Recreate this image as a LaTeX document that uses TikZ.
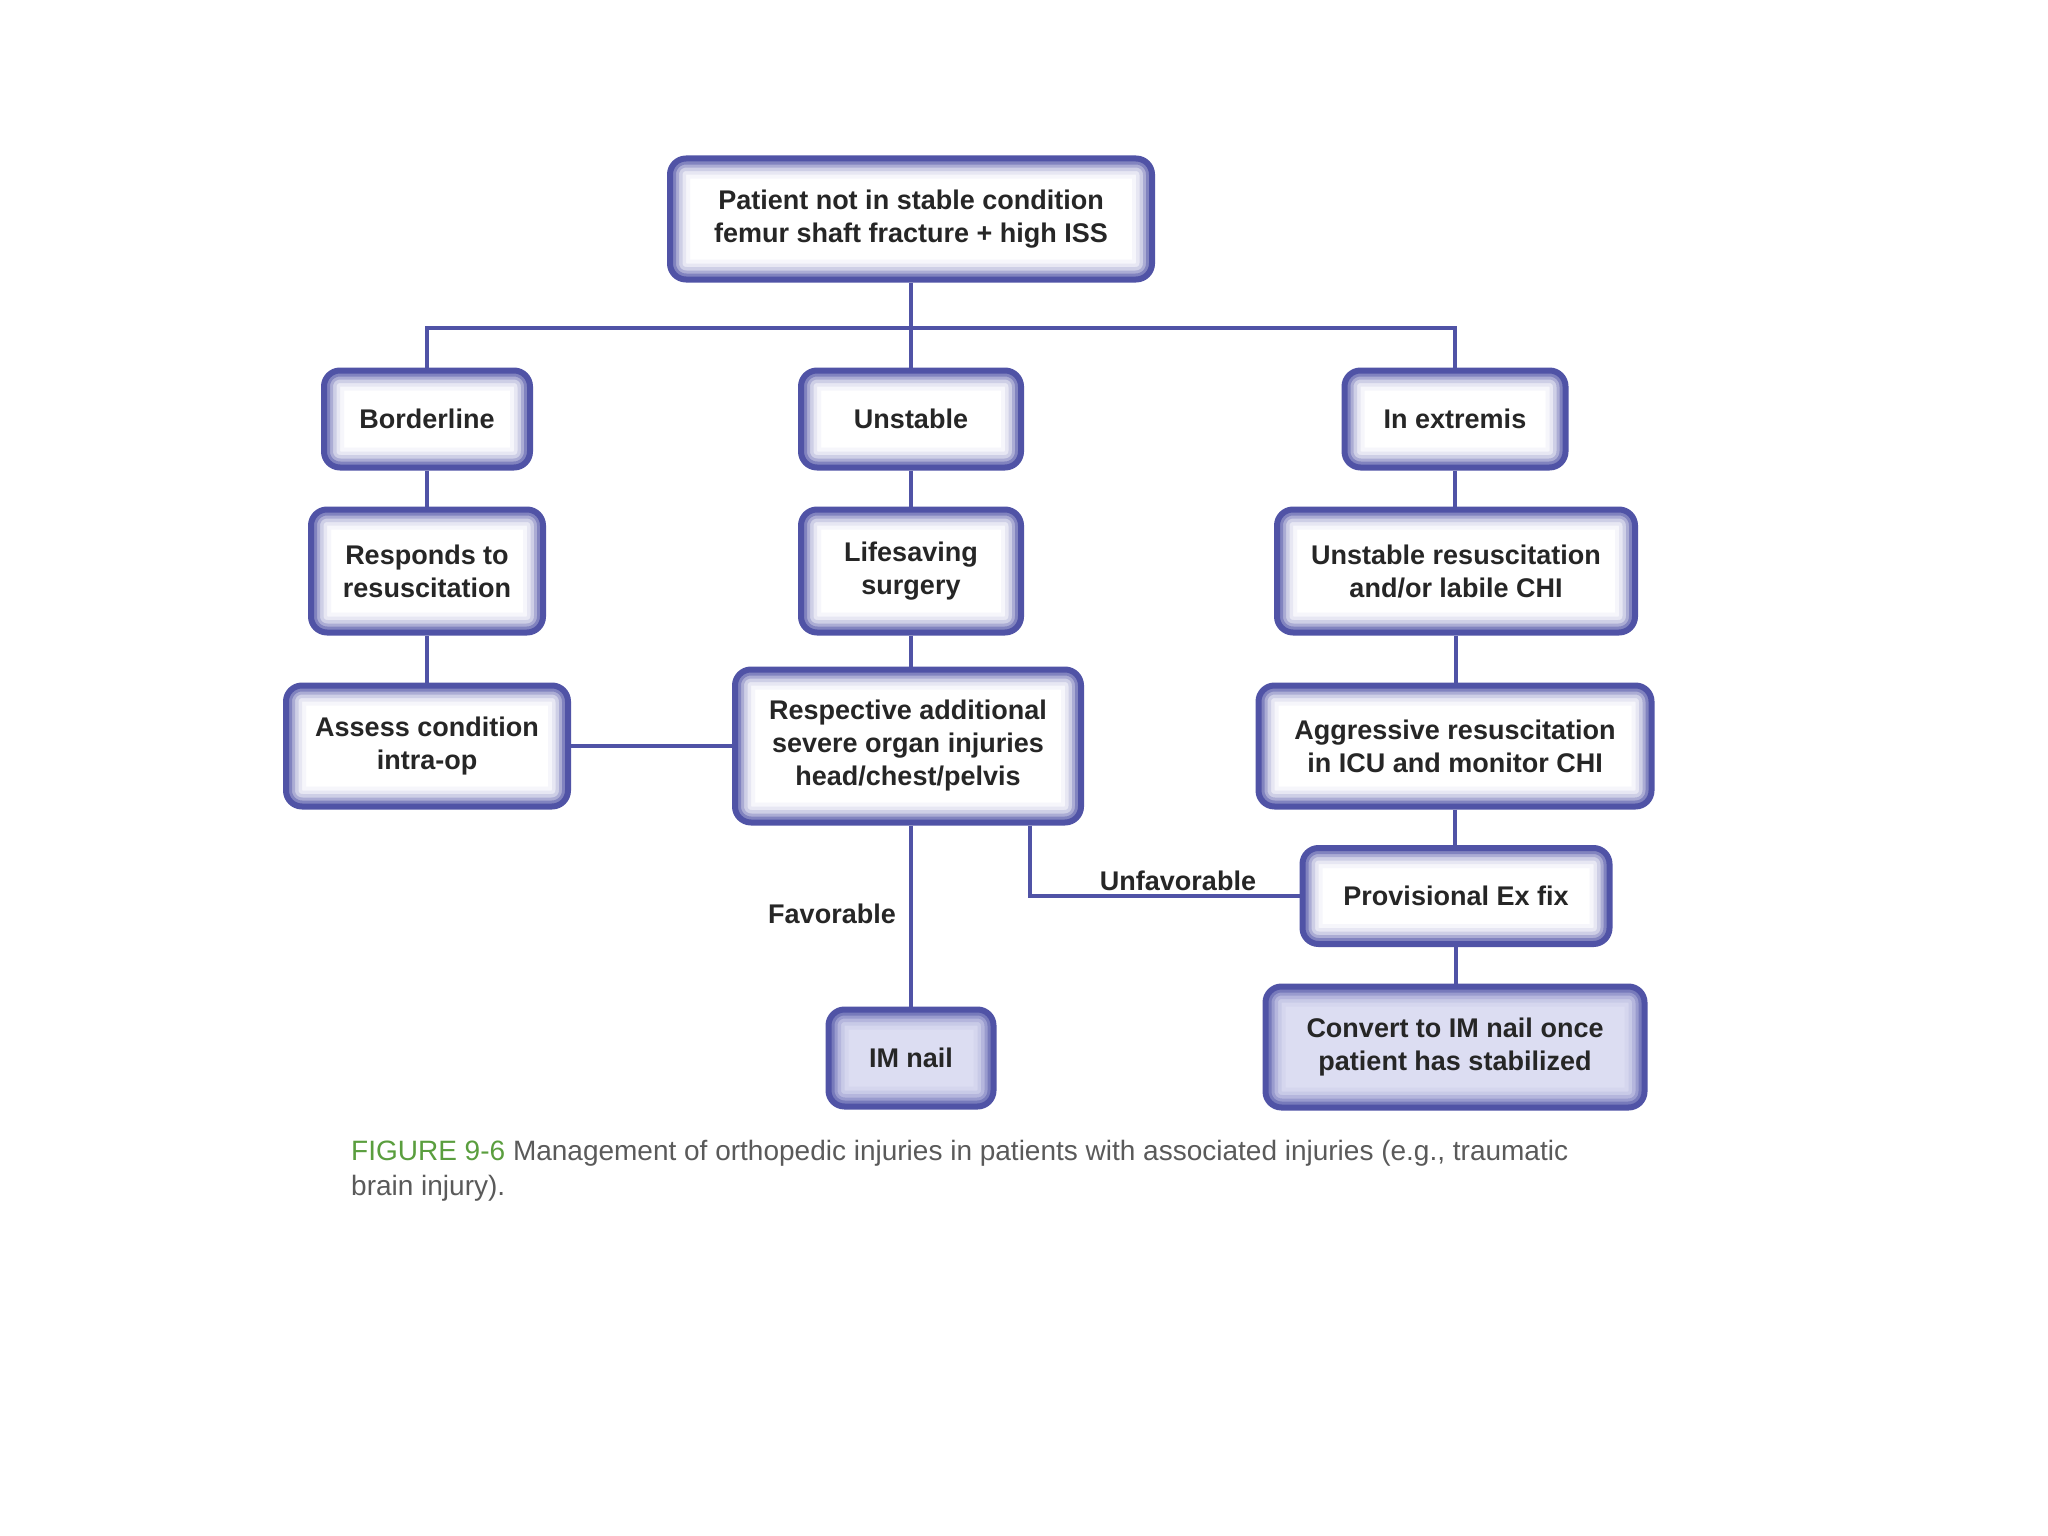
\documentclass[tikz,border=0pt]{standalone}
\usepackage{fontspec}
\setmainfont{Liberation Sans}
\definecolor{bcol}{HTML}{5053A6}
\definecolor{lav}{HTML}{DCDDF2}
\definecolor{txt}{HTML}{262626}
\definecolor{figgreen}{HTML}{5A9E3E}
\definecolor{capgray}{HTML}{5A5A5A}
\newcommand\glowlayers[1]{%
  \draw[line width=40pt, bcol!5!#1, rounded corners=16pt] (path picture bounding box.south west) rectangle (path picture bounding box.north east);
  \draw[line width=32pt, bcol!14!#1, rounded corners=16pt] (path picture bounding box.south west) rectangle (path picture bounding box.north east);
  \draw[line width=25pt, bcol!28!#1, rounded corners=16pt] (path picture bounding box.south west) rectangle (path picture bounding box.north east);
  \draw[line width=18pt, bcol!48!#1, rounded corners=16pt] (path picture bounding box.south west) rectangle (path picture bounding box.north east);
  \draw[line width=12pt, bcol!72!#1, rounded corners=16pt] (path picture bounding box.south west) rectangle (path picture bounding box.north east);
}
\tikzset{
  flowbox/.style={rounded corners=16pt, draw=bcol, line width=6pt, fill=white,
    align=center, inner sep=0pt, text=txt,
    font=\fontsize{27}{33}\selectfont\bfseries,
    path picture={\glowlayers{white}}},
  lavbox/.style={flowbox, fill=lav, path picture={\glowlayers{lav}}},
  conn/.style={draw=bcol, line width=4pt},
  lbl/.style={text=txt, font=\fontsize{27}{33}\selectfont\bfseries, inner sep=0pt}
}
\begin{document}
\begin{tikzpicture}[x=1pt, y=-1pt]
\useasboundingbox[fill=white] (0,0) rectangle (2048,1536);
\coordinate (bus) at (911,328);
\coordinate (uf) at (1030,0);
\node[flowbox, minimum width=482pt, minimum height=121pt] (top) at (911,219) {Patient not in stable condition\\femur shaft fracture + high ISS};
\node[flowbox, minimum width=206pt, minimum height=97pt] (border) at (427,419) {Borderline};
\node[flowbox, minimum width=220pt, minimum height=97pt] (unstable) at (911,419) {Unstable};
\node[flowbox, minimum width=221pt, minimum height=97pt] (extremis) at (1455,419) {In extremis};
\node[flowbox, minimum width=232pt, minimum height=123pt] (responds) at (427,571) {Responds to\\resuscitation};
\node[flowbox, minimum width=220pt, minimum height=123pt] (lifesaving) at (911,571) {Lifesaving\\surgery};
\node[flowbox, minimum width=358pt, minimum height=123pt] (unstres) at (1456,571) {Unstable resuscitation\\and/or labile CHI};
\node[flowbox, minimum width=282pt, minimum height=121pt] (assess) at (427,746) {Assess condition\\intra-op};
\node[flowbox, minimum width=346pt, minimum height=153pt] (respective) at (908,746) {Respective additional\\severe organ injuries\\head/chest/pelvis};
\node[flowbox, minimum width=393pt, minimum height=121pt] (aggressive) at (1455,746) {Aggressive resuscitation\\in ICU and monitor CHI};
\node[flowbox, minimum width=307pt, minimum height=96pt] (provisional) at (1456,896) {Provisional Ex fix};
\node[lavbox, minimum width=165pt, minimum height=97pt] (imnail) at (911,1058) {IM nail};
\node[lavbox, minimum width=379pt, minimum height=121pt] (convert) at (1455,1047) {Convert to IM nail once\\patient has stabilized};
% connectors
\draw[conn] (top.south) -- (unstable.north);
\draw[conn] (border.north) |- (bus) -| (extremis.north);
\draw[conn] (border.south) -- (responds.north);
\draw[conn] (responds.south) -- (assess.north);
\draw[conn] (unstable.south) -- (lifesaving.north);
\draw[conn] (lifesaving.south) -- (lifesaving.south |- respective.north);
\draw[conn] (extremis.south) -- (extremis.south |- unstres.north);
\draw[conn] (unstres.south) -- (unstres.south |- aggressive.north);
\draw[conn] (aggressive.south) -- (aggressive.south |- provisional.north);
\draw[conn] (provisional.south) -- (provisional.south |- convert.north);
\draw[conn] (assess.east) -- (respective.west);
\draw[conn] (imnail.north |- respective.south) -- (imnail.north);
\draw[conn] (uf |- respective.south) |- (provisional.west);
\node[lbl] (fav) at (832,914) {Favorable};
\node[lbl] (unfav) at (1178,881) {Unfavorable};
% caption
\node[anchor=base west, inner sep=0pt, font=\fontsize{28}{35}\selectfont, text=capgray, align=left] (cap) at (351,1195)
  {\textcolor{figgreen}{FIGURE 9-6} Management of orthopedic injuries in patients with associated injuries (e.g., traumatic\\brain injury).};
\end{tikzpicture}
\end{document}
